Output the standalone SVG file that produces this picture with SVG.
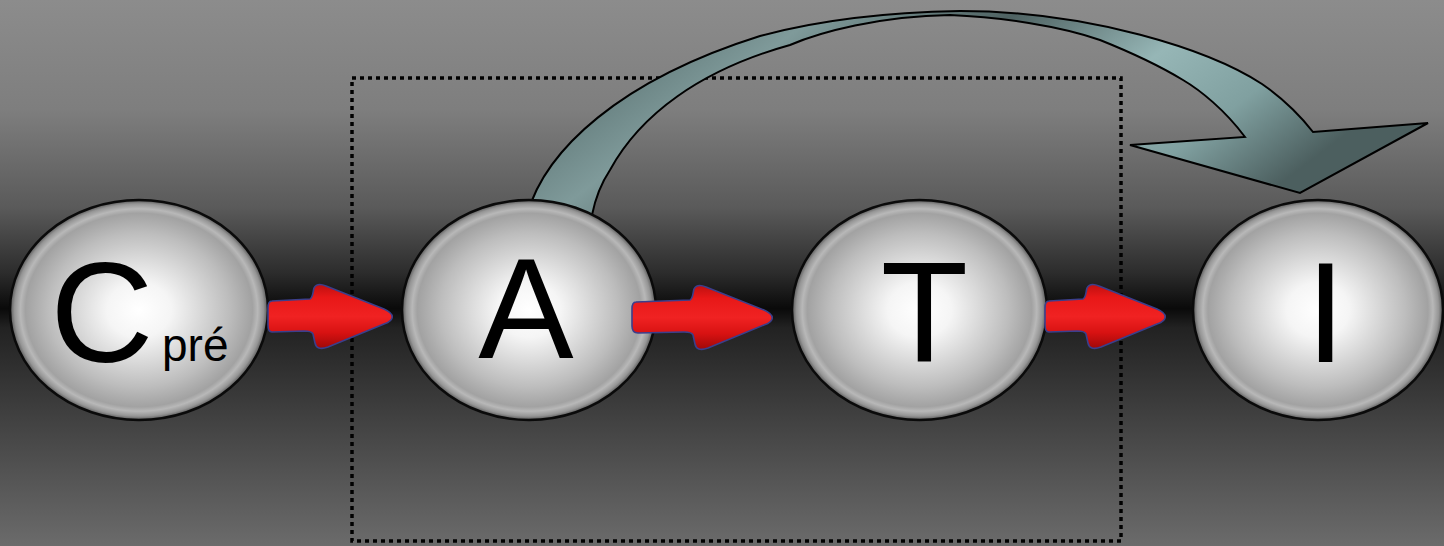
<svg xmlns="http://www.w3.org/2000/svg" width="1444" height="546" viewBox="0 0 1444 546">
  <defs>
    <linearGradient id="bg" x1="0" y1="0" x2="0" y2="1">
      <stop offset="0" stop-color="#8c8c8c"/>
      <stop offset="0.2" stop-color="#7e7e7e"/>
      <stop offset="0.38" stop-color="#5a5a5a"/>
      <stop offset="0.5" stop-color="#2c2c2c"/>
      <stop offset="0.565" stop-color="#0a0a0a"/>
      <stop offset="0.6" stop-color="#222222"/>
      <stop offset="0.75" stop-color="#3e3e3e"/>
      <stop offset="1" stop-color="#6b6b6b"/>
    </linearGradient>
    <radialGradient id="sphere" cx="0.5" cy="0.5" r="0.5">
      <stop offset="0" stop-color="#ffffff"/>
      <stop offset="0.25" stop-color="#f5f5f5"/>
      <stop offset="0.7" stop-color="#bdbdbd"/>
      <stop offset="0.88" stop-color="#a2a2a2"/>
      <stop offset="0.92" stop-color="#b8b8b8"/>
      <stop offset="0.965" stop-color="#959595"/>
      <stop offset="1" stop-color="#555555"/>
    </radialGradient>
    <linearGradient id="redg" x1="0" y1="0" x2="0" y2="1">
      <stop offset="0" stop-color="#c01010"/>
      <stop offset="0.2" stop-color="#e81818"/>
      <stop offset="0.5" stop-color="#f02222"/>
      <stop offset="0.75" stop-color="#d81212"/>
      <stop offset="1" stop-color="#a00808"/>
    </linearGradient>
    <linearGradient id="curveg" x1="0" y1="0" x2="1" y2="0.3">
      <stop offset="0" stop-color="#3c4c4c"/>
      <stop offset="0.15" stop-color="#5f7777"/>
      <stop offset="0.3" stop-color="#7f9a9a"/>
      <stop offset="0.5" stop-color="#4f6262"/>
      <stop offset="0.7" stop-color="#96b6b6"/>
      <stop offset="0.85" stop-color="#80a0a0"/>
      <stop offset="1" stop-color="#4c5f5f"/>
    </linearGradient>
    <style>
      .node { fill: url(#sphere); stroke: #0a0a0a; stroke-width: 2.5; }
      .lbl { font-family: "Liberation Sans", Arial, sans-serif; font-size: 143px; fill: #000; text-anchor: middle; }
      .sub { font-family: "Liberation Sans", Arial, sans-serif; font-size: 46px; fill: #000; }
      .red { fill: url(#redg); stroke: #3b3f8c; stroke-width: 1.6; stroke-linejoin: round; }
      .curve { fill: url(#curveg); stroke: #000; stroke-width: 2; stroke-linejoin: miter; }
      .frame { fill: none; stroke: #000; stroke-width: 3.5; stroke-dasharray: 4 4; }
    </style>
  </defs>

  <rect x="0" y="0" width="1444" height="546" fill="url(#bg)"/>

  <rect class="frame" x="352" y="78" width="769" height="463"/>

  <g id="connectors-back">
    <path class="curve" d="M527,215 C545,150 620,80 760,36 C830,17 900,12 960,11 C1090,11 1210,50 1262,84 C1285,100 1302,118 1313,132 L1428,123 L1300,193 L1130,145 L1245,137 C1225,110 1200,90 1183,80 C1150,60 1120,48 1100,40 C1060,26 1000,17 950,15 C880,16 820,32 790,45 C700,70 640,115 610,170 C600,185 595,200 592,215 Z"/>
  </g>

  <g id="node-C">
    <ellipse class="node" cx="139" cy="310" rx="129" ry="110"/>
    <text class="lbl" x="102" y="362">C</text>
    <text class="sub" x="162" y="361">pré</text>
  </g>
  <g id="node-A">
    <ellipse class="node" cx="529" cy="310" rx="127" ry="110"/>
    <text class="lbl" x="526" y="358">A</text>
  </g>
  <g id="node-T">
    <ellipse class="node" cx="919.5" cy="310" rx="127.5" ry="110"/>
    <text class="lbl" x="924.5" y="362">T</text>
  </g>
  <g id="node-I">
    <ellipse class="node" cx="1318" cy="310" rx="125" ry="110"/>
    <text class="lbl" x="1325.5" y="362">I</text>
  </g>

  <g id="connectors">
    <path class="red" d="M272,301 L310,299 C313,298 313,291 314,288 C316,284 321,284 326,286 L384,309 C395,314 395,320 384,324 L328,347 C320,350 316,348 315,343 L313,334 C312,331 308,331 304,331 L272,332 C269,332 268,329 268,325 L268,308 C268,303 269,301 272,301 Z"/>
    <path class="red" d="M636,302 L690,300 C693,299 693,292 694,289 C696,285 701,285 706,287 L764,310 C775,315 775,321 764,325 L708,348 C700,351 696,349 695,344 L693,335 C692,332 688,332 684,332 L638,333 C633,333 632,330 632,326 L632,309 C632,304 633,302 636,302 Z"/>
    <path class="red" d="M1049,301 L1083,299 C1086,298 1086,291 1087,288 C1089,284 1094,284 1099,286 L1157,309 C1168,314 1168,320 1157,324 L1101,347 C1093,350 1089,348 1088,343 L1086,334 C1085,331 1081,331 1077,331 L1049,332 C1046,332 1045,329 1045,325 L1045,308 C1045,303 1046,301 1049,301 Z"/>
  </g>
</svg>
